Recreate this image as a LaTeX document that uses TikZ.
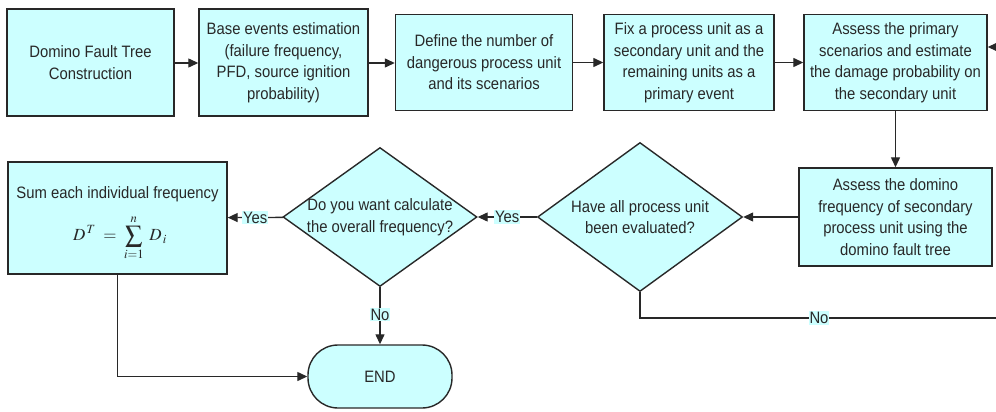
\documentclass[tikz,border=0pt]{standalone}
\usepackage{mathptmx}
\usepackage{fontspec}
\setmainfont{Liberation Sans}[FakeStretch=0.9]
\usetikzlibrary{arrows.meta,shapes.geometric}
\definecolor{boxfill}{RGB}{204,255,255}
\definecolor{edge}{RGB}{40,40,40}
\definecolor{txt}{RGB}{40,40,40}
\begin{document}
\begin{tikzpicture}[x=1pt,y=-1pt,
  every node/.style={font=\fontsize{16.5}{21.5}\selectfont, text=txt},
  box/.style={draw=edge, line width=1.4pt, fill=boxfill, align=center, inner sep=1pt},
  dia/.style={draw=edge, line width=1.4pt, fill=boxfill, diamond, inner sep=0pt, aspect=1.38},
  term/.style={draw=edge, line width=1.4pt, fill=boxfill, rounded corners=30pt, minimum width=144pt, minimum height=63pt},
  conn/.style={draw=edge, line width=1.3pt, -{Triangle[length=10pt,width=9pt]}},
  lab/.style={fill=boxfill, inner sep=1pt}]
\useasboundingbox (0,0) rectangle (996,412);
% top row
\node[box, minimum width=167pt, minimum height=107pt] (b1) at (90.5,62.5) {Domino Fault Tree\\Construction};
\node[box, minimum width=169pt, minimum height=107pt] (b2) at (283.5,62.5) {Base events estimation\\(failure frequency,\\PFD, source ignition\\probability)};
\node[box, minimum width=177pt, minimum height=96pt] (b3) at (484,62.5) {Define the number of\\dangerous process unit\\and its scenarios};
\node[box, minimum width=170pt, minimum height=96pt] (b4) at (689,62.5) {Fix a process unit as a\\secondary unit and the\\remaining units as a\\primary event};
\node[box, minimum width=183pt, minimum height=96pt] (b5) at (895.5,62.5) {Assess the primary\\scenarios and estimate\\the damage probability on\\the secondary unit};
% second row
\node[box, minimum width=193pt, minimum height=98pt] (b6) at (895.5,217) {Assess the domino\\frequency of secondary\\process unit using the\\domino fault tree};
\node[dia, minimum width=205pt, minimum height=149pt] (d1) at (640,217) {};
\node[align=center] (d1t) at (640,217) {Have all process unit\\been evaluated?};
\node[dia, minimum width=194pt, minimum height=139pt] (d2) at (380,217) {};
\node[align=center] (d2t) at (380,217) {Do you want calculate\\the overall frequency?};
\node[box, minimum width=219pt, minimum height=112pt] (b7) at (117.5,218) {};
\node[inner sep=0pt] (b7t) at (117.5,194) {Sum each individual frequency};
\node[inner sep=0pt] (b7f) at (120,238) {\fontsize{17}{20}\selectfont$\displaystyle D^{\,T}\;=\;\sum_{i=1}^{n}\;D_{\,i}$};
\node[term] (end) at (380,376.5) {END};
% connectors
\draw[conn] (b1.east |- 0,63) -- (b2.west |- 0,63);
\draw[conn] (b2.east |- 0,63) -- (b3.west |- 0,63);
\draw[conn] (b3) -- (b4);
\draw[conn] (b4) -- (b5);
\draw[conn] (b5) -- (b6);
\draw[conn] (b6) -- (d1);
\draw[conn] (d1) -- node[lab, pos=0.5] {Yes} (d2);
\draw[conn] (d2) -- node[lab, pos=0.5] {Yes} (b7);
\draw[conn] (d2) -- node[lab, pos=0.48] {No} (end);
\draw[conn] (b7.south) |- (end.west);
\coordinate (loopR) at (1010,318);
\coordinate (loopT) at (1010,47);
\begin{scope}
\clip (0,0) rectangle (996,412);
\draw[conn] (d1.south) |- node[lab, pos=0.5+0.5*(819-640)/(1010-640)] {No} (loopR) -- (loopT) -- (b5.east |- loopT);
\end{scope}
\end{tikzpicture}
\end{document}
